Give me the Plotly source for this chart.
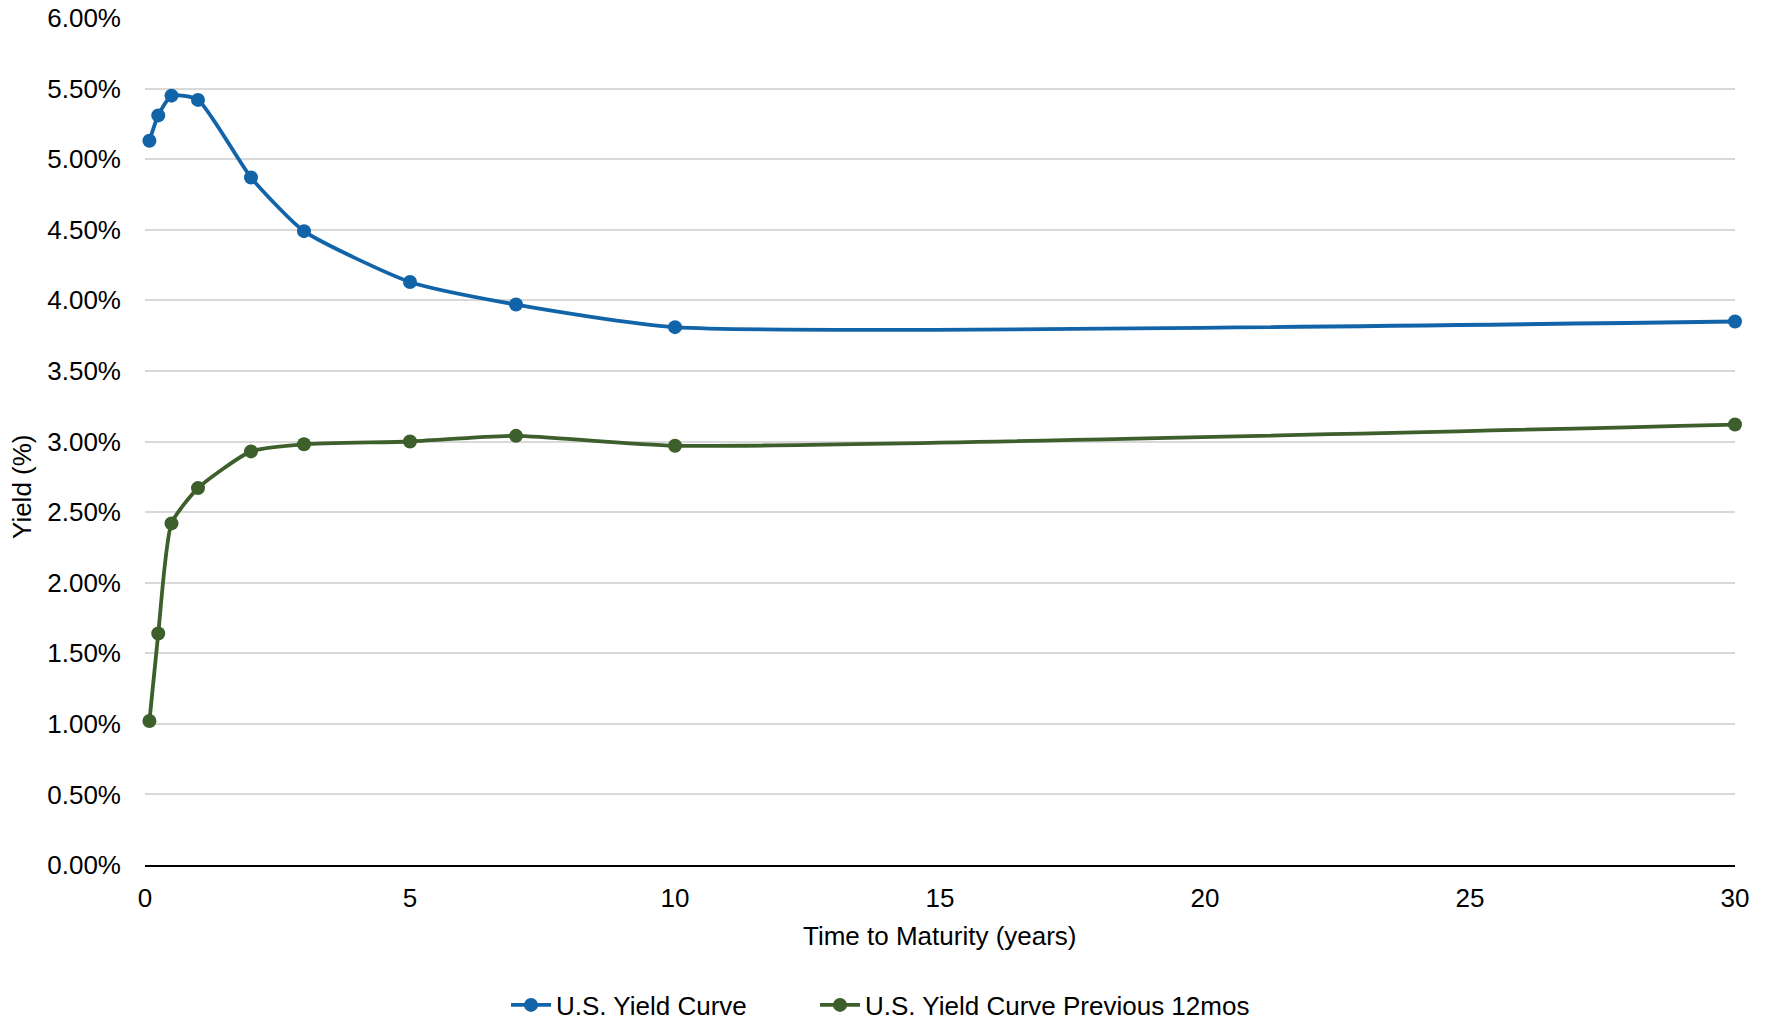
import plotly.graph_objects as go

# Treasury maturities (years) and yields (decimal)
maturities = [1/12, 0.25, 0.5, 1, 2, 3, 5, 7, 10, 30]
current_yields = [0.0513, 0.0531, 0.0545, 0.0542, 0.0487, 0.0449, 0.0413, 0.0397, 0.0381, 0.0385]
prior_yields = [0.0102, 0.0164, 0.0242, 0.0267, 0.0293, 0.0298, 0.0300, 0.0304, 0.0297, 0.0312]
x_ticks = [0, 5, 10, 15, 20, 25, 30]
y_ticks = [i * 0.005 for i in range(13)]

series_names = ["U.S. Yield Curve", "U.S. Yield Curve Previous 12mos"]
series_colors = ["#1264A9", "#3D5F2B"]
legend_ids = ["legend", "legend2"]

FONT = "Liberation Sans, Arial, sans-serif"
FS = 26

fig = go.Figure()
for name, ys, color, lg in zip(series_names, [current_yields, prior_yields], series_colors, legend_ids):
    fig.add_trace(go.Scatter(
        x=maturities, y=ys, name=name, mode="lines+markers",
        line=dict(color=color, width=3.8, shape="spline", smoothing=0.55),
        marker=dict(color=color, size=14),
        cliponaxis=False, legend=lg,
    ))

W, H = 1773, 1023
L, R, T, B = 145, 38, 18, 158
pw, ph = W - L - R, H - T - B
legend_y = (T + ph - 1005) / ph


def legend_at(px):
    return dict(
        orientation="h", x=(px - L) / pw, xanchor="left",
        y=legend_y, yanchor="middle",
        font=dict(size=FS), itemwidth=40,
        bgcolor="rgba(0,0,0,0)",
    )


fig.update_layout(
    width=W, height=H,
    margin=dict(l=L, r=R, t=T, b=B, autoexpand=False),
    paper_bgcolor="white", plot_bgcolor="white",
    font=dict(family=FONT, size=FS, color="#000000"),
    showlegend=True,
    legend=legend_at(506),
    legend2=legend_at(815),
    xaxis=dict(
        range=[0, 30], tickvals=x_ticks, ticktext=[str(v) for v in x_ticks],
        showgrid=False, zeroline=False,
        showline=True, linecolor="#000000", linewidth=2,
        ticks="", ticklabelstandoff=9,
        tickfont=dict(size=FS),
    ),
    yaxis=dict(
        range=[0, 0.06], tickvals=y_ticks, tickformat=".2%",
        showgrid=True, gridcolor="#D9D9D9", gridwidth=1.5,
        zeroline=False, showline=False,
        ticks="", ticklabelstandoff=23,
        tickfont=dict(size=FS),
    ),
    annotations=[
        dict(text="Time to Maturity (years)", xref="paper", yref="paper",
             x=0.5, y=(T + ph - 936) / ph, xanchor="center", yanchor="middle",
             showarrow=False, font=dict(size=FS)),
        dict(text="Yield (%)", xref="paper", yref="paper",
             x=(22 - L) / pw, y=(T + ph - 487) / ph, xanchor="center", yanchor="middle",
             textangle=-90, showarrow=False, font=dict(size=FS)),
    ],
)

fig.write_html("out.html")
